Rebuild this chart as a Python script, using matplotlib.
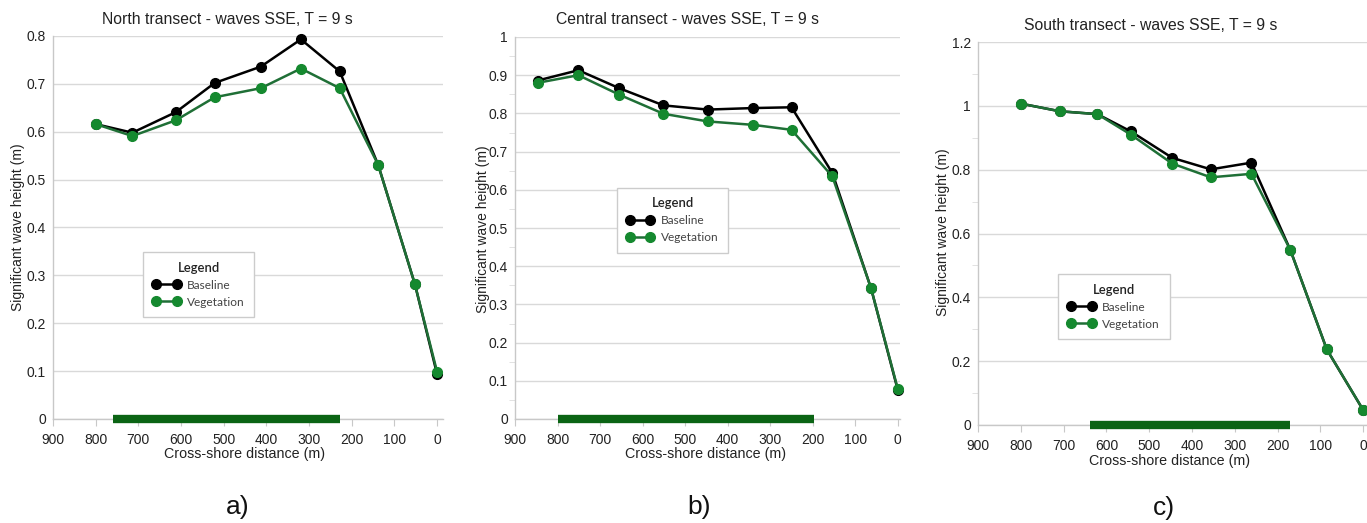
import matplotlib
matplotlib.use("Agg")
import matplotlib.pyplot as plt
from matplotlib.lines import Line2D
from matplotlib.ticker import MultipleLocator

plt.rcParams['font.family'] = ['Liberation Sans', 'DejaVu Sans']

# Cross-shore distance (m) and significant wave height (m) per transect
north_x = [800, 714, 612, 521, 413, 319, 228, 138, 52, 0]
north_base = [0.616, 0.598, 0.641, 0.702, 0.736, 0.793, 0.726, 0.531, 0.282, 0.094]
north_veg = [0.616, 0.591, 0.624, 0.672, 0.691, 0.732, 0.691, 0.531, 0.282, 0.099]
north_patch = [760, 228]

central_x = [847, 751, 655, 551, 447, 340, 250, 154, 63, 0]
central_base = [0.886, 0.913, 0.866, 0.821, 0.810, 0.814, 0.816, 0.644, 0.342, 0.075]
central_veg = [0.880, 0.900, 0.849, 0.799, 0.779, 0.770, 0.757, 0.635, 0.342, 0.078]
central_patch = [800, 197]

south_x = [800, 709, 621, 543, 446, 356, 261, 170, 85, 0]
south_base = [1.007, 0.983, 0.974, 0.920, 0.837, 0.801, 0.822, 0.548, 0.237, 0.047]
south_veg = [1.007, 0.983, 0.974, 0.910, 0.819, 0.776, 0.787, 0.548, 0.237, 0.047]
south_patch = [639, 171]

titles = ["North transect - waves SSE, T = 9 s",
          "Central transect - waves SSE, T = 9 s",
          "South transect - waves SSE, T = 9 s"]
panel_tags = ["a)", "b)", "c)"]
x_ticks = [900, 800, 700, 600, 500, 400, 300, 200, 100, 0]

W, H = 1367, 523
fig = plt.figure(figsize=(W / 100, H / 100), dpi=100)

BLACK = "#000000"
GREEN_M = "#15892f"
GREEN_L = "#1f6f36"
PATCH = "#0b6414"
GRID = "#d9d9d9"
SPINE = "#c8c8c8"
MS = 7


def px_axes(left, right, top, bottom):
    return fig.add_axes([left / W, 1 - bottom / H, (right - left) / W, (bottom - top) / H])


def fmt(v):
    return "0" if abs(v) < 1e-9 else f"{v:g}"


panels = [
    dict(box=(53, 443, 36, 419), xlim=(900, -14), ylim=(0, 0.8), ystep=0.1, ymin=None,
         x=north_x, b=north_base, v=north_veg, patch=north_patch,
         leg=(0.231, 0.436), title=(227, 19), ylab=(18, 227), xlab=(245, 454), tag=(238, 507)),
    dict(box=(515, 900, 37, 419), xlim=(900, -5), ylim=(0, 1.0), ystep=0.1, ymin=0.05,
         x=central_x, b=central_base, v=central_veg, patch=central_patch,
         leg=(0.265, 0.605), title=(688, 19), ylab=(483, 229), xlab=(706, 454), tag=(699, 507)),
    dict(box=(978, 1367, 42, 425), xlim=(900, -9), ylim=(0, 1.2), ystep=0.2, ymin=0.1,
         x=south_x, b=south_base, v=south_veg, patch=south_patch,
         leg=(0.206, 0.394), title=(1151, 25), ylab=(943, 232), xlab=(1170, 461), tag=(1164, 508)),
]

for i, p in enumerate(panels):
    ax = px_axes(*p["box"])
    ax.set_xlim(*p["xlim"])
    ax.set_ylim(*p["ylim"])
    for s in ["top", "right"]:
        ax.spines[s].set_visible(False)
    ax.spines["left"].set_color(SPINE)
    ax.spines["bottom"].set_color(SPINE)
    ax.spines["left"].set_linewidth(1)
    ax.spines["bottom"].set_linewidth(1)

    ax.set_xticks(x_ticks)
    ax.set_xticklabels([str(t) for t in x_ticks])
    if p["ymin"]:
        ax.yaxis.set_minor_locator(MultipleLocator(p["ymin"]))
    yt = [k * p["ystep"] for k in range(int(round(p["ylim"][1] / p["ystep"])) + 1)]
    ax.set_yticks(yt)
    ax.set_yticklabels([fmt(round(v, 2)) for v in yt])
    ax.tick_params(axis="x", length=5, color=SPINE, labelsize=10, pad=5, labelcolor="#222222")
    ax.tick_params(axis="y", which="major", length=0, labelsize=10, pad=5, labelcolor="#222222")
    ax.tick_params(axis="y", which="minor", length=4, color="#dddddd")
    ax.grid(axis="y", color=GRID, linewidth=1)
    ax.set_axisbelow(True)

    # vegetated stretch of the transect
    ax.plot(p["patch"], [0, 0], color=PATCH, linewidth=6, solid_capstyle="butt",
            zorder=4, clip_on=False)

    ax.plot(p["x"], p["b"], color=BLACK, linewidth=1.8, marker="o", markersize=MS,
            markerfacecolor=BLACK, markeredgecolor=BLACK, zorder=5, clip_on=False)
    ax.plot(p["x"], p["v"], color=GREEN_L, linewidth=1.8, marker="o", markersize=MS,
            markerfacecolor=GREEN_M, markeredgecolor=GREEN_M, zorder=6, clip_on=False)

    handles = [
        Line2D([], [], color=BLACK, lw=1.8, marker="o", markersize=MS,
               markerfacecolor=BLACK, markeredgecolor=BLACK),
        Line2D([], [], color=GREEN_L, lw=1.8, marker="o", markersize=MS,
               markerfacecolor=GREEN_M, markeredgecolor=GREEN_M),
    ]
    leg = ax.legend(handles, ["Baseline", "Vegetation"], title="Legend",
                    loc="upper left", bbox_to_anchor=p["leg"], borderaxespad=0,
                    numpoints=2, handlelength=2.3, handletextpad=0.6,
                    labelspacing=0.5, borderpad=0.8, fancybox=False,
                    prop={"family": ["Lato", "DejaVu Sans"], "size": 8.6},
                    title_fontproperties={"family": ["Lato", "DejaVu Sans"],
                                          "size": 9.4, "weight": "semibold"},
                    labelcolor="#444444", framealpha=1)
    leg.get_frame().set_edgecolor("#cccccc")
    leg.get_frame().set_linewidth(1)
    leg.get_title().set_color("#222222")

    fig.text(p["title"][0] / W, 1 - p["title"][1] / H, titles[i], ha="center", va="center",
             fontsize=11.3, color="#222222")
    fig.text(p["ylab"][0] / W, 1 - p["ylab"][1] / H, "Significant wave height (m)",
             rotation=90, ha="center", va="center", fontsize=10, color="#222222")
    fig.text(p["xlab"][0] / W, 1 - p["xlab"][1] / H, "Cross-shore distance (m)",
             ha="center", va="center", fontsize=10.3, color="#222222")
    fig.text(p["tag"][0] / W, 1 - p["tag"][1] / H, panel_tags[i],
             ha="center", va="center", fontsize=19, color="#111111")

fig.savefig("out.png", dpi=100, facecolor="white")
